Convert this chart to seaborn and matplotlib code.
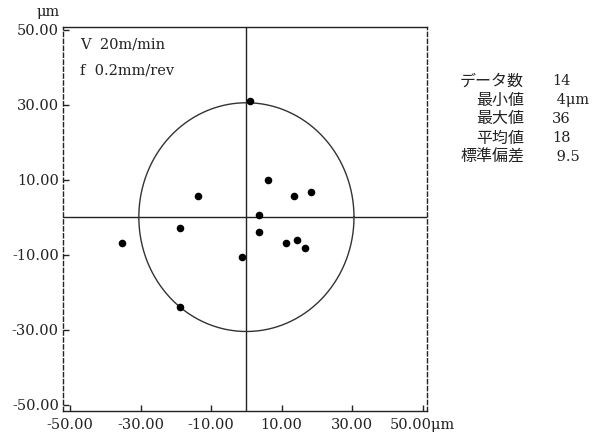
import numpy as np
import pandas as pd
import matplotlib
matplotlib.use("Agg")
import matplotlib.pyplot as plt
import seaborn as sns

# ---- data ----
x_um = [1.1, 6.2, 13.4, 18.2, -13.7, 3.7, -18.9, 3.5, 11.3, 14.4, 16.6, -1.2, -18.9, -35.3]
y_um = [30.9, 9.9, 5.6, 6.7, 5.5, 0.5, -3.0, -4.0, -7.0, -6.1, -8.2, -10.7, -23.9, -7.0]
x_ticks = [-50, -30, -10, 10, 30, 50]
x_ticklabels = ["-50.00", "-30.00", "-10.00", "10.00", "30.00", "50.00μm"]
y_ticks = [50, 30, 10, -10, -30, -50]
y_ticklabels = ["50.00", "30.00", "10.00", "-10.00", "-30.00", "-50.00"]
circle_radius = 30.5
cond_lines = ["V  20m/min", "f  0.2mm/rev"]
stat_names = ["データ数", "最小値", "最大値", "平均値", "標準偏差"]
stat_values = ["14", " 4μm", "36", "18", " 9.5"]

df = pd.DataFrame({"x": x_um, "y": y_um})

sns.set_theme(style="white")
plt.rcParams["font.family"] = ["DejaVu Serif"]

fig = plt.figure(figsize=(5.96, 4.34), dpi=100)
ax = fig.add_axes([63 / 596, 23 / 434, 364 / 596, 384 / 434])

ax.set_xlim(-52.0, 51.2)
ax.set_ylim(-51.7, 50.7)

# centre cross lines
ax.axvline(0, color="#222222", lw=1.0, zorder=1)
ax.axhline(0, color="#222222", lw=1.0, zorder=1)

# reference circle
theta = np.linspace(0, 2 * np.pi, 400)
ax.plot(circle_radius * np.cos(theta), circle_radius * np.sin(theta),
        color="#333333", lw=1.0, zorder=1)

sns.scatterplot(data=df, x="x", y="y", ax=ax, color="black", s=30,
                edgecolor="black", linewidth=0, zorder=3, legend=False)

ax.set_xlabel("")
ax.set_ylabel("")

# spines
for side in ["top", "bottom"]:
    ax.spines[side].set_visible(True)
    ax.spines[side].set_color("#222222")
    ax.spines[side].set_linewidth(1.0)
for side in ["left", "right"]:
    ax.spines[side].set_visible(True)
    ax.spines[side].set_color("#222222")
    ax.spines[side].set_linewidth(1.0)
    ax.spines[side].set_linestyle((0, (3, 2)))

ax.set_xticks(x_ticks)
ax.set_xticklabels(x_ticklabels)
ax.set_yticks(y_ticks)
ax.set_yticklabels(y_ticklabels)
ax.tick_params(axis="both", direction="in", length=4, width=1, color="#222222",
               labelsize=10.5, labelcolor="#222222", pad=3,
               bottom=True, left=True, top=False, right=False)
ax.tick_params(axis="x", pad=5)

# unit label above y axis
fig.text(48 / 596, 1 - 12 / 434, "μm", ha="center", va="center",
         fontsize=10.5, color="#222222", family="DejaVu Serif")

# cutting conditions
for i, line in enumerate(cond_lines):
    fig.text(80 / 596, 1 - (44 + 26 * i) / 434, line, ha="left", va="center",
             fontsize=10.5, color="#222222", family="DejaVu Serif")

# statistics panel
for i, (name, val) in enumerate(zip(stat_names, stat_values)):
    yy = 1 - (81 + 19 * i) / 434
    fig.text(524 / 596, yy, name, ha="right", va="center", fontsize=11.5,
             color="#222222", family=["Noto Sans CJK JP", "DejaVu Sans"])
    fig.text(552 / 596, yy, val, ha="left", va="center", fontsize=10.5,
             color="#222222", family="DejaVu Serif")

fig.savefig("out.png", dpi=100)
